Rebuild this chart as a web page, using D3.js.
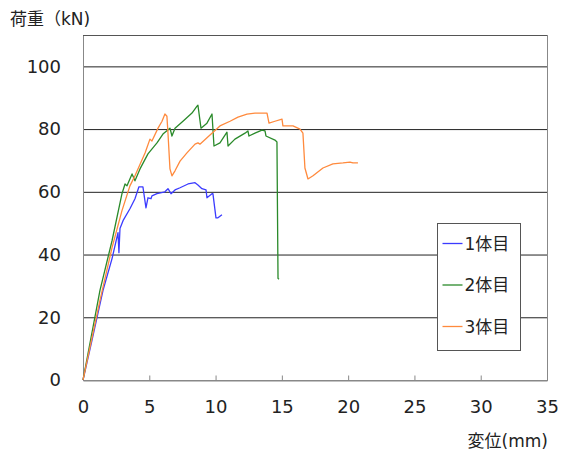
<!DOCTYPE html>
<html>
<head>
<meta charset="utf-8">
<script src="https://cdn.jsdelivr.net/npm/d3@7"></script>
<style>
  body { margin: 0; background: #fff; }
  text { font-family: "DejaVu Sans", "Noto Sans CJK JP", sans-serif; fill: #222; }
</style>
</head>
<body>
<div class="svg_container"></div>
<script>
// series names
var seriesNames = ["1体目", "2体目", "3体目"];
var seriesColors = ["#3b3bff", "#2a8a2a", "#ff8a3d"];

// displacement (mm), load (kN)
var disp1 = [0, 0.68, 1.51, 2.19, 2.64, 2.71, 2.79, 3.02, 3.54, 3.92, 4.22, 4.52, 4.75, 4.9, 5.13, 5.2, 5.58, 6.18, 6.41, 6.64, 6.94, 7.32, 7.92, 8.45, 8.67, 8.97, 9.28, 9.35, 9.73, 9.8, 10.03, 10.18, 10.48];
var load1 = [0, 12.7, 28.6, 38.7, 47, 40.6, 48.3, 50.8, 54.6, 57.8, 61.6, 61.6, 54.9, 58.1, 57.8, 58.7, 59.4, 60, 61, 59.4, 60.6, 61.3, 62.5, 62.9, 62.2, 61, 60.6, 58.1, 59.4, 59.4, 51.7, 51.7, 52.7];

var disp2 = [0, 1.28, 2.19, 2.94, 3.17, 3.32, 3.7, 3.92, 4.3, 4.9, 5.58, 6.03, 6.56, 6.71, 6.94, 7.54, 8.22, 8.6, 8.67, 8.9, 9.35, 9.73, 9.88, 10.33, 10.86, 10.94, 11.46, 12.22, 12.44, 12.52, 12.97, 13.5, 13.73, 13.8, 14.48, 14.63, 14.71, 14.78];
var load2 = [0, 28.6, 44.4, 59.4, 62.5, 61.9, 65.7, 63.5, 67.3, 72.1, 75.6, 78.4, 80.3, 77.8, 80.3, 82.5, 85.1, 87.3, 87.6, 80.3, 81.9, 84.8, 74.6, 75.6, 79, 74.6, 76.8, 78.7, 79.4, 77.8, 78.7, 79.7, 79.4, 77.8, 76.5, 75.9, 32.4, 32.1];

var disp3 = [0, 1.28, 2.19, 2.94, 3.54, 3.92, 4.68, 5.05, 5.2, 5.66, 5.96, 6.18, 6.33, 6.41, 6.56, 6.71, 6.94, 7.32, 7.84, 8.45, 8.67, 8.82, 9.58, 10.33, 11.09, 11.69, 12.37, 12.97, 13.5, 13.88, 14.03, 14.48, 15.01, 15.08, 15.84, 16.37, 16.59, 16.74, 16.97, 17.35, 18.1, 18.85, 19.61, 20.14, 20.36, 20.74];
var load3 = [0, 25.4, 42.2, 54, 61.9, 65.1, 72.4, 76.8, 76.2, 80.3, 82.5, 84.8, 84.1, 78.7, 67.3, 65.1, 66.7, 69.8, 72.4, 75.2, 75.6, 75.2, 78.1, 81, 82.5, 83.8, 84.8, 85.1, 85.1, 85.1, 81.9, 82.5, 83.2, 81, 81, 80, 78.7, 67.6, 64.1, 65.1, 67.6, 68.9, 69.2, 69.5, 69.2, 69.2];

var xTicks = [0, 5, 10, 15, 20, 25, 30, 35];
var yTicks = [0, 20, 40, 60, 80, 100];

var series = [
  { name: seriesNames[0], color: seriesColors[0], x: disp1, y: load1 },
  { name: seriesNames[1], color: seriesColors[1], x: disp2, y: load2 },
  { name: seriesNames[2], color: seriesColors[2], x: disp3, y: load3 }
];

// set the dimensions and margins of the graph
var margin = { top: 35, right: 14, bottom: 75, left: 83 },
  width = 561 - margin.left - margin.right,
  height = 455 - margin.top - margin.bottom;

var x = d3.scaleLinear().domain([0, 35]).range([0, width]);
var y = d3.scaleLinear().domain([0, 110]).range([height, 0]);

var root = d3.select(".svg_container").append("svg")
  .attr("width", 561)
  .attr("height", 455);

var svg = root.append("g")
  .attr("transform", "translate(" + margin.left + "," + margin.top + ")");

// gridlines
svg.selectAll(".grid")
  .data(yTicks.filter(function(d) { return d > 0; }))
  .enter().append("line")
  .attr("x1", 0).attr("x2", width)
  .attr("y1", function(d) { return y(d) + 0.5; })
  .attr("y2", function(d) { return y(d) + 0.5; })
  .attr("stroke", "#222")
  .attr("stroke-width", 1);

// frame
svg.append("rect")
  .attr("x", 0.5).attr("y", 0.5)
  .attr("width", width).attr("height", height)
  .attr("fill", "none")
  .attr("stroke", "#888");
svg.append("line")
  .attr("x1", 0).attr("x2", width)
  .attr("y1", 0.5).attr("y2", 0.5)
  .attr("stroke", "#555");

// x axis
var xAxis = svg.append("g")
  .attr("transform", "translate(0," + (height + 0.5) + ")")
  .call(d3.axisBottom(x).tickValues(xTicks).tickSizeInner(-5).tickSizeOuter(0).tickPadding(20));
xAxis.select(".domain").attr("stroke", "#888");
xAxis.selectAll(".tick line").attr("stroke", "#888");
xAxis.selectAll("text").style("font-size", "18px").attr("fill", "#222");

// y axis
var yAxis = svg.append("g")
  .call(d3.axisLeft(y).tickValues(yTicks).tickSize(0).tickPadding(22));
yAxis.select(".domain").remove();
yAxis.selectAll("text").style("font-size", "18px").attr("fill", "#222");

// lines
var line = d3.line()
  .x(function(d) { return x(d[0]); })
  .y(function(d) { return y(d[1]); });

series.forEach(function(s) {
  svg.append("path")
    .datum(d3.zip(s.x, s.y))
    .attr("d", line)
    .attr("fill", "none")
    .attr("stroke", s.color)
    .attr("stroke-width", 1.3)
    .attr("stroke-linejoin", "round");
});

// axis titles
root.append("text")
  .attr("x", 10).attr("y", 25)
  .style("font-size", "17px")
  .text("荷重（kN)");
root.append("text")
  .attr("x", 548).attr("y", 447)
  .attr("text-anchor", "end")
  .style("font-size", "17px")
  .text("変位(mm)");

// legend
var legend = root.append("g").attr("transform", "translate(437.5,223.5)");
legend.append("rect")
  .attr("width", 83).attr("height", 127)
  .attr("fill", "#fff")
  .attr("stroke", "#555");
series.forEach(function(s, i) {
  var cy = 20 + i * 41.5;
  legend.append("line")
    .attr("x1", 5).attr("x2", 25)
    .attr("y1", cy).attr("y2", cy)
    .attr("stroke", s.color)
    .attr("stroke-width", 1.3);
  legend.append("text")
    .attr("x", 27).attr("y", cy + 6)
    .style("font-size", "17px")
    .text(s.name);
});
</script>
</body>
</html>
